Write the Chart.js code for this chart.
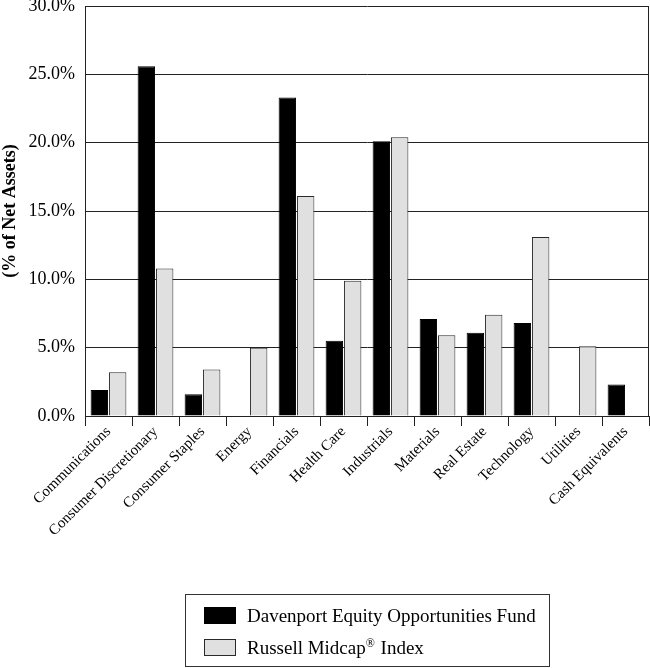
<!DOCTYPE html>
<html>
<head>
<meta charset="utf-8">
<script src="https://cdn.jsdelivr.net/npm/chart.js@4/dist/chart.umd.min.js"></script>
<style>
  html, body { margin: 0; padding: 0; background: #fff; }
  #wrap { width: 650px; height: 668px; }
</style>
</head>
<body>
<div id="wrap"><canvas id="chart" width="650" height="668"></canvas></div>
<script>
const categories = ['Communications', 'Consumer Discretionary', 'Consumer Staples', 'Energy',
    'Financials', 'Health Care', 'Industrials', 'Materials', 'Real Estate', 'Technology',
    'Utilities', 'Cash Equivalents'];
const fundValues = [1.9, 25.6, 1.6, 0, 23.3, 5.5, 20.1, 7.1, 6.1, 6.8, 0, 2.3];
const indexValues = [3.2, 10.8, 3.4, 5.0, 16.1, 9.9, 20.4, 5.9, 7.4, 13.1, 5.1, 0];
const seriesNames = ['Davenport Equity Opportunities Fund', 'Russell Midcap\u00AE Index'];

const serif = "'Liberation Serif', 'Times New Roman', serif";

// right edge of the plot box
const frameRight = {
    id: 'frameRight',
    afterDraw(chart) {
        const a = chart.chartArea, ctx = chart.ctx;
        ctx.save();
        ctx.strokeStyle = '#222';
        ctx.lineWidth = 1;
        ctx.beginPath();
        ctx.moveTo(a.right - 0.5, a.top);
        ctx.lineTo(a.right - 0.5, a.bottom);
        ctx.stroke();
        ctx.restore();
    }
};

// boxed legend under the chart, one series per row
const boxLegend = {
    id: 'boxLegend',
    afterDraw(chart) {
        const ctx = chart.ctx;
        const box = { x: 185.5, y: 594.5, w: 364, h: 72 };
        ctx.save();
        ctx.strokeStyle = '#333';
        ctx.lineWidth = 1;
        ctx.strokeRect(box.x, box.y, box.w, box.h);
        chart.data.datasets.forEach((ds, i) => {
            const rowY = 607 + i * 32;
            ctx.fillStyle = ds.backgroundColor;
            ctx.fillRect(204, rowY, 32, 17);
            ctx.strokeStyle = ds.borderColor;
            ctx.strokeRect(204.5, rowY + 0.5, 31, 16);
            ctx.fillStyle = '#000';
            ctx.textBaseline = 'alphabetic';
            ctx.textAlign = 'left';
            const base = rowY + 15;
            const parts = ds.label.split('\u00AE');
            let x = 247;
            ctx.font = '19px ' + serif;
            ctx.fillText(parts[0], x, base);
            x += ctx.measureText(parts[0]).width;
            if (parts.length > 1) {
                ctx.font = '12px ' + serif;
                ctx.fillText('\u00AE', x, base - 7);
                x += ctx.measureText('\u00AE').width + 1;
                ctx.font = '19px ' + serif;
                ctx.fillText(parts[1], x, base);
            }
        });
        ctx.restore();
    }
};

new Chart(document.getElementById('chart'), {
    type: 'bar',
    data: {
        labels: categories,
        datasets: [
            {
                label: seriesNames[0],
                data: fundValues,
                backgroundColor: '#000000',
                borderColor: '#000000',
                borderWidth: 1
            },
            {
                label: seriesNames[1],
                data: indexValues,
                backgroundColor: '#e0e0e0',
                borderColor: '#2a2a2a',
                borderWidth: 1
            }
        ]
    },
    plugins: [frameRight, boxLegend],
    options: {
        responsive: false,
        animation: false,
        layout: {
            autoPadding: false,
            padding: { top: 6, right: 1, bottom: 120, left: 0 }
        },
        datasets: {
            bar: {
                categoryPercentage: 0.78,
                barPercentage: 0.95
            }
        },
        scales: {
            x: {
                offset: true,
                grid: {
                    offset: true,
                    drawOnChartArea: false,
                    drawTicks: true,
                    tickLength: 10,
                    color: '#222'
                },
                border: { color: '#222' },
                ticks: {
                    color: '#000',
                    minRotation: 45,
                    maxRotation: 45,
                    padding: -3,
                    font: { family: serif, size: 15 }
                },
                afterFit(scale) { scale.height = 132; }
            },
            y: {
                min: 0,
                max: 30,
                grid: {
                    color: '#222',
                    drawTicks: false
                },
                border: { color: '#222' },
                ticks: {
                    stepSize: 5,
                    color: '#000',
                    padding: 10,
                    font: { family: serif, size: 18 },
                    callback: (v) => v.toFixed(1) + '%'
                },
                title: {
                    display: true,
                    text: '(% of Net Assets)',
                    color: '#000',
                    padding: 0,
                    font: { family: serif, size: 18, weight: 'bold' }
                },
                afterFit(scale) {
                    scale.width = 85;
                    scale.paddingTop = 0;
                    scale.paddingBottom = 0;
                }
            }
        },
        plugins: {
            legend: { display: false },
            tooltip: { enabled: false }
        }
    }
});
</script>
</body>
</html>
